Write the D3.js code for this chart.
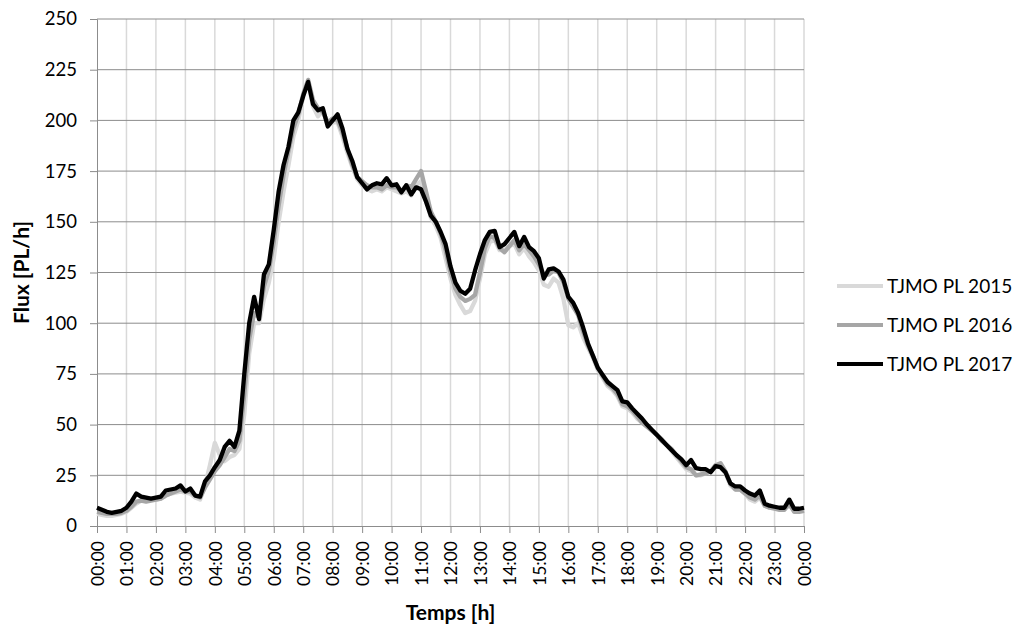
<!DOCTYPE html>
<html>
<head>
<meta charset="utf-8">
<script src="https://cdn.jsdelivr.net/npm/d3@7"></script>
<style>
  html, body { margin: 0; padding: 0; background: #fff; }
  svg { display: block; font-family: Lato, "Open Sans", sans-serif; }
</style>
</head>
<body>
<div id="chart"></div>
<script>
// 10-minute steps, 00:00 -> 24:00 (145 points)
const stepMinutes = 10;
const seriesNames = ["TJMO PL 2015", "TJMO PL 2016", "TJMO PL 2017"];
const yTicks = [0, 25, 50, 75, 100, 125, 150, 175, 200, 225, 250];
const hourTicks = d3.range(0, 25);

const pl2015 = [
  6, 5.5, 5, 5, 5.5, 6, 7, 9, 11, 12.5, 13, 13, 13, 13.5, 15, 16, 16.5, 17, 16.5, 16,
  14, 13, 20, 30, 41, 35, 32, 34, 35, 38, 55, 85, 100, 100, 112, 120, 132, 150, 165, 178,
  192, 200, 212, 219, 207, 202, 205, 198, 199, 199, 192, 184, 177, 171, 168, 166, 165, 166, 165, 167,
  166, 165, 164, 165, 163, 168, 170, 162, 152, 148, 142, 132, 122, 114, 109, 105, 106, 111, 122, 134,
  140, 141, 136, 136, 138, 139, 134, 137, 133, 130, 126, 119, 118, 122, 120, 112, 99, 98, 100, 93,
  88, 83, 77, 73, 69, 67, 64, 59, 58, 56, 53, 51, 49, 47, 45, 43, 40, 37, 34, 31,
  28, 27, 25, 25, 26, 27, 30, 29, 26, 20, 18, 18, 16, 13, 12, 14, 10, 9, 9, 8.5,
  8.5, 10, 8, 7.5, 8
];

const pl2016 = [
  7, 6.5, 6, 6, 6, 6.5, 7.5, 9.5, 12, 12.5, 12, 12.5, 13, 13.5, 15, 16, 17, 18, 17, 17,
  15, 14, 19, 23, 27, 30, 34, 38, 37, 42, 65, 92, 105, 103, 118, 126, 140, 158, 173, 185,
  196, 203, 213, 220, 210, 206, 204, 199, 201, 200, 194, 186, 178, 172, 170, 168, 167, 167, 166, 168,
  167, 167, 165, 168, 167, 171, 175, 165, 155, 150, 144, 136, 125, 117, 113, 111, 112, 114, 125, 137,
  143, 142, 137, 135, 138, 141, 136, 139, 136, 133, 129, 124, 124, 126, 125, 120, 112, 108, 104, 96,
  89, 84, 78, 74, 70, 68, 65, 60, 59, 57, 54, 51, 49, 47, 45, 42, 40, 38, 35, 32,
  29, 28, 25, 25.5, 26, 27, 30, 31, 27, 21, 18, 18, 16, 14, 13, 15, 10, 9, 8.5, 8,
  8, 11, 7, 7, 7.5
];

const pl2017 = [
  9, 8, 7, 6.5, 7, 7.5, 9, 12, 16, 14.5, 14, 13.5, 14, 14.5, 17.5, 18, 18.5, 20, 17, 18.5,
  15, 14.5, 22, 25, 29, 32.5, 39, 42, 39, 47, 75, 100, 113, 102, 124, 129, 146, 165, 178, 187,
  200, 204, 212, 219, 208, 205, 206, 197, 200, 203, 196, 186, 180, 172, 169, 166, 168, 169, 168.5, 171.5,
  168, 168.5, 164.5, 168, 163.5, 167, 166, 160, 153, 150, 145, 139, 128, 120, 116, 114.5, 117, 126, 134, 141,
  145, 145.5, 137.5, 139, 142, 145, 138, 142.5, 137.5, 135.5, 132, 122, 126.5, 127, 125.5, 121.5, 113, 110, 105, 98,
  90, 84, 78, 74.5, 71, 69, 67, 61.5, 61, 58, 55.5, 53, 50, 47.5, 45, 42.5, 40, 37.5, 35, 33,
  30, 32.5, 28.5, 28, 28, 26.5, 29.5, 29, 26.5, 21, 19.5, 19.5, 17.5, 16, 15, 17.5, 11, 10, 9.5, 9,
  9, 13, 8.5, 8.5, 9
];

const series = [
  { name: seriesNames[0], values: pl2015, color: "#d9d9d9" },
  { name: seriesNames[1], values: pl2016, color: "#a6a6a6" },
  { name: seriesNames[2], values: pl2017, color: "#000000" }
];

const width = 1022, height = 628;
const margin = { left: 97, right: 218, top: 19, bottom: 102 };

const svg = d3.select("#chart").append("svg")
  .attr("width", width)
  .attr("height", height);

const x = d3.scaleLinear()
  .domain([0, 24])
  .range([margin.left, width - margin.right]);

const y = d3.scaleLinear()
  .domain([0, 250])
  .range([height - margin.bottom, margin.top]);

// vertical grid (hours)
svg.append("g")
  .selectAll("line")
  .data(hourTicks.slice(1))
  .join("line")
  .attr("x1", d => x(d)).attr("x2", d => x(d))
  .attr("y1", y(250)).attr("y2", y(0))
  .attr("stroke", "#d9d9d9")
  .attr("stroke-width", 1.5);

// horizontal grid
svg.append("g")
  .selectAll("line")
  .data(yTicks.slice(1))
  .join("line")
  .attr("x1", x(0)).attr("x2", x(24))
  .attr("y1", d => y(d)).attr("y2", d => y(d))
  .attr("stroke", "#8c8c8c")
  .attr("stroke-width", 1);

// y axis
const yAxis = svg.append("g")
  .attr("transform", `translate(${x(0)},0)`)
  .call(d3.axisLeft(y).tickValues(yTicks).tickSize(7).tickPadding(13));
yAxis.select(".domain").attr("stroke", "#8c8c8c");
yAxis.selectAll(".tick line").attr("stroke", "#8c8c8c");
yAxis.selectAll("text")
  .attr("font-family", "Lato, sans-serif")
  .attr("font-size", 18.5)
  .attr("fill", "#000");

// x axis
const xAxis = svg.append("g")
  .attr("transform", `translate(0,${y(0)})`)
  .call(d3.axisBottom(x)
    .tickValues(hourTicks)
    .tickSize(7)
    .tickFormat(d => String(d % 24).padStart(2, "0") + ":00"));
xAxis.select(".domain").attr("stroke", "#8c8c8c");
xAxis.selectAll(".tick line").attr("stroke", "#8c8c8c");
xAxis.selectAll("text")
  .attr("font-family", "Lato, sans-serif")
  .attr("font-size", 17.5)
  .attr("fill", "#000")
  .attr("text-anchor", "end")
  .attr("transform", "rotate(-90)")
  .attr("x", -15)
  .attr("y", 0)
  .attr("dy", "0.36em");

// lines
const line = d3.line()
  .x((d, i) => x(i * stepMinutes / 60))
  .y(d => y(d));

svg.append("g")
  .selectAll("path")
  .data(series)
  .join("path")
  .attr("fill", "none")
  .attr("stroke", d => d.color)
  .attr("stroke-width", 4.3)
  .attr("stroke-linejoin", "round")
  .attr("d", d => line(d.values));

// axis titles
svg.append("text")
  .attr("x", (x(0) + x(24)) / 2)
  .attr("y", 620)
  .attr("text-anchor", "middle")
  .attr("font-family", "Lato, sans-serif")
  .attr("font-weight", "bold")
  .attr("font-size", 21)
  .text("Temps [h]");

svg.append("text")
  .attr("transform", `translate(29,${(y(0) + y(250)) / 2}) rotate(-90)`)
  .attr("text-anchor", "middle")
  .attr("font-family", "Lato, sans-serif")
  .attr("font-weight", "bold")
  .attr("font-size", 21)
  .text("Flux [PL/h]");

// legend
const legend = svg.append("g")
  .selectAll("g")
  .data(series)
  .join("g")
  .attr("transform", (d, i) => `translate(837,${286 + i * 39})`);

legend.append("line")
  .attr("x1", 0).attr("x2", 46)
  .attr("stroke", d => d.color)
  .attr("stroke-width", 4);

legend.append("text")
  .attr("x", 50)
  .attr("dy", "0.36em")
  .attr("font-family", "Lato, sans-serif")
  .attr("font-size", 19)
  .text(d => d.name);
</script>
</body>
</html>
